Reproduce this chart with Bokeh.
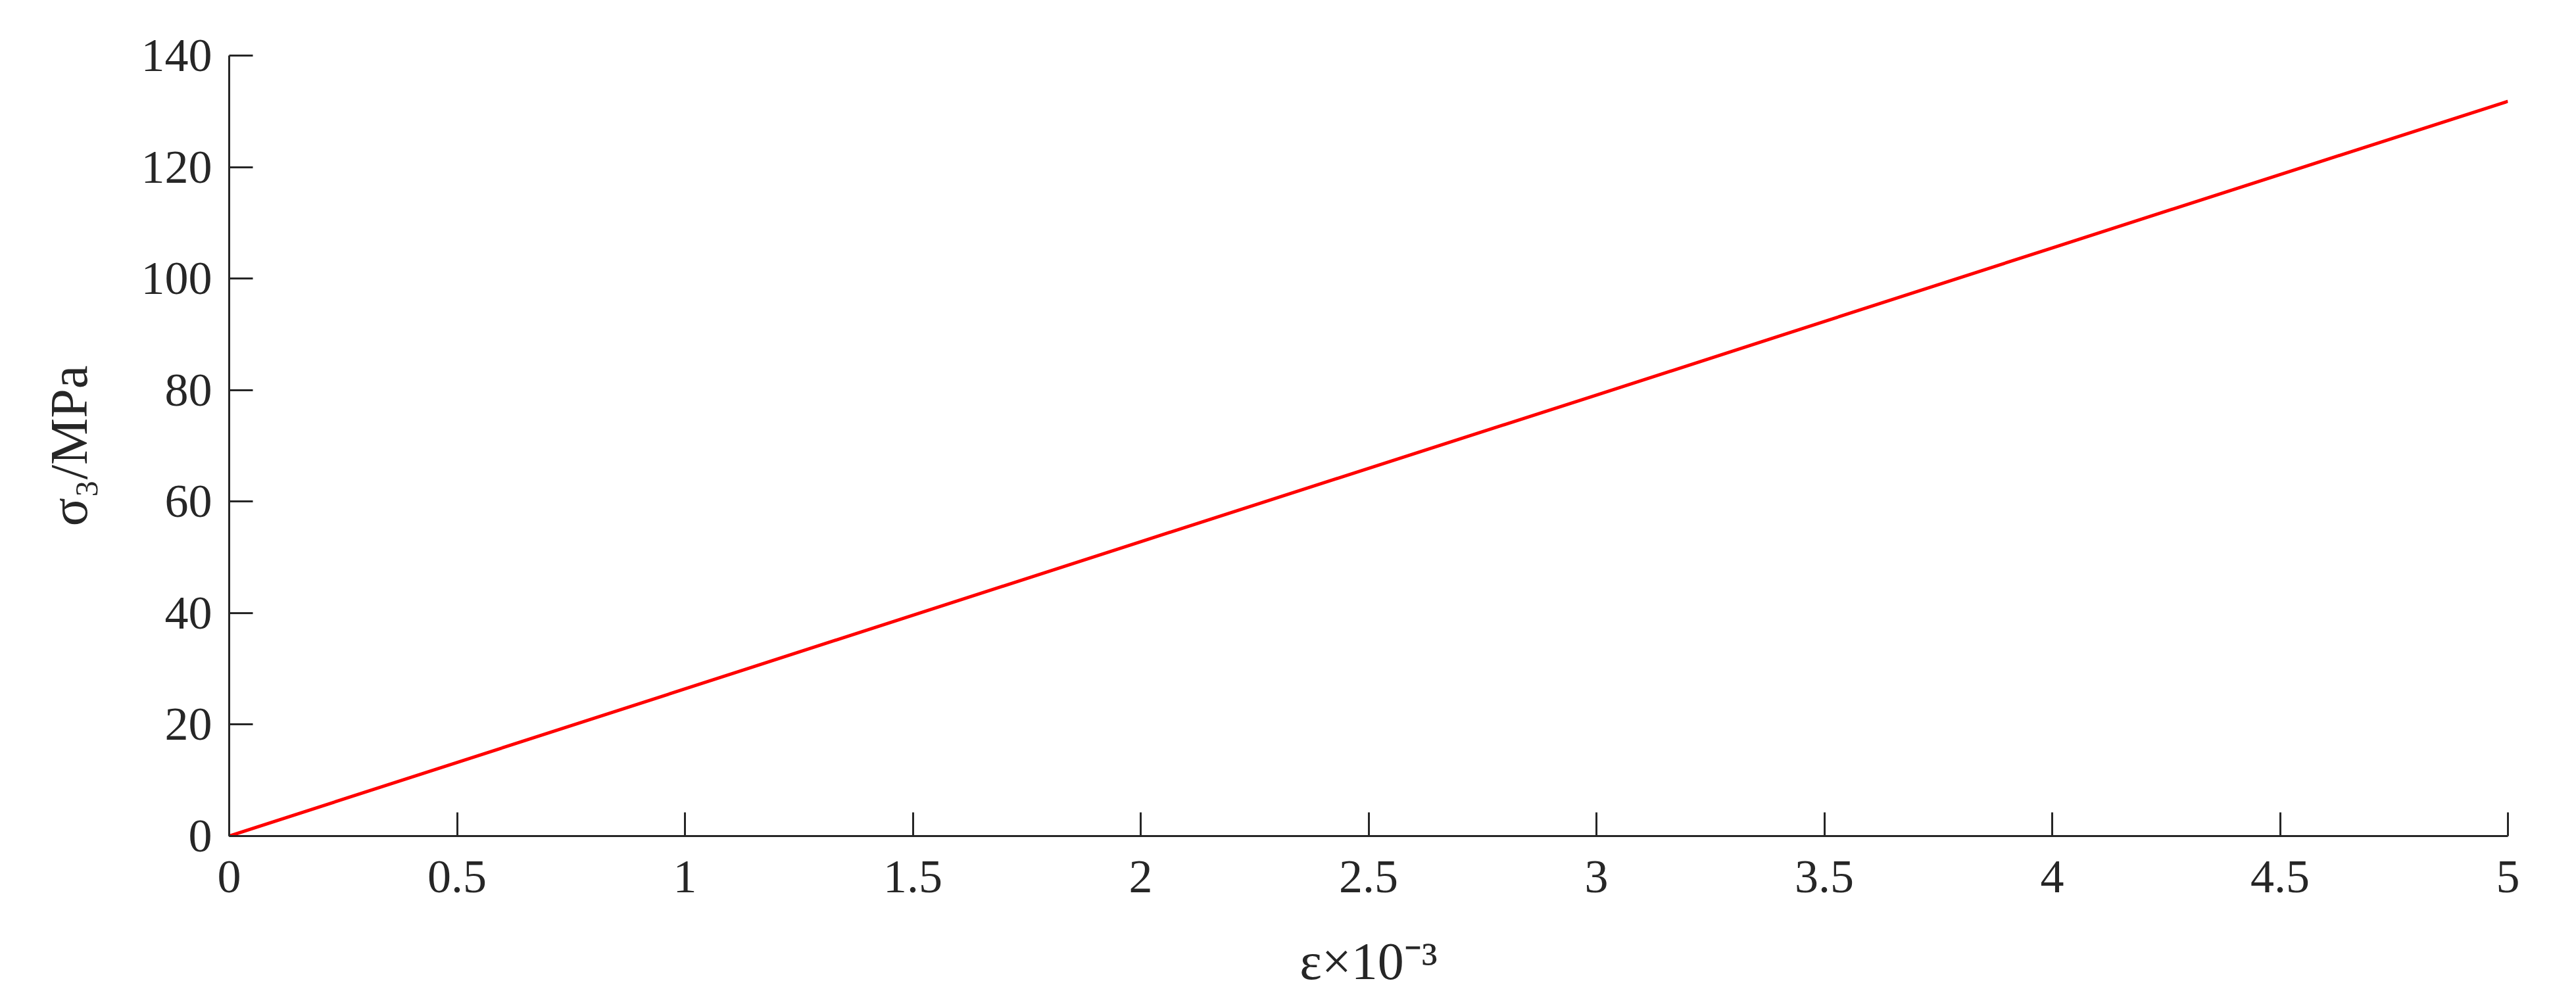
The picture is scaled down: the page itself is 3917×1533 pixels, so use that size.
from bokeh.plotting import figure
from bokeh.models import FixedTicker, Range1d
from bokeh.embed import file_html
from bokeh.resources import INLINE

# data
strain = [0, 1, 2, 3, 4, 5]
stress = [0, 26.4, 52.8, 79.1, 105.5, 131.8]

x_ticks = [0, 0.5, 1, 1.5, 2, 2.5, 3, 3.5, 4, 4.5, 5]
x_tick_labels = ["0", "0.5", "1", "1.5", "2", "2.5", "3", "3.5", "4", "4.5", "5"]
y_ticks = [0, 20, 40, 60, 80, 100, 120, 140]
y_tick_labels = ["0", "20", "40", "60", "80", "100", "120", "140"]

x_label = "ε×10⁻³"
y_label = "σ₃/MPa"

AX = "#262626"
FONT = "Liberation Serif"

p = figure(width=3917, height=1533, output_backend="svg", toolbar_location=None,
           x_range=Range1d(0, 5), y_range=Range1d(0, 140),
           min_border_left=348, min_border_right=104, min_border_top=84,
           min_border_bottom=262)
p.outline_line_color = None
p.xgrid.visible = False
p.ygrid.visible = False
p.background_fill_color = "white"
p.border_fill_color = "white"

p.line(strain, stress, line_color="#ff0000", line_width=5)

p.xaxis.ticker = FixedTicker(ticks=x_ticks)
p.yaxis.ticker = FixedTicker(ticks=y_ticks)
p.xaxis.major_label_overrides = {t: l for t, l in zip(x_ticks, x_tick_labels)}
p.yaxis.major_label_overrides = {t: l for t, l in zip(y_ticks, y_tick_labels)}
p.xaxis.axis_label = x_label
p.yaxis.axis_label = y_label

for ax in (p.xaxis, p.yaxis):
    ax.axis_line_color = AX
    ax.axis_line_width = 3
    ax.major_tick_line_color = AX
    ax.major_tick_line_width = 3
    ax.major_tick_in = 36
    ax.major_tick_out = 0
    ax.minor_tick_line_color = None
    ax.major_label_text_font = FONT
    ax.major_label_text_font_size = "72px"
    ax.major_label_text_color = AX
    ax.axis_label_text_font = FONT
    ax.axis_label_text_font_size = "80px"
    ax.axis_label_text_font_style = "normal"
    ax.axis_label_text_color = AX

p.xaxis.major_label_standoff = 38
p.yaxis.major_label_standoff = 26
p.xaxis.axis_label_standoff = 58
p.yaxis.axis_label_standoff = 63

open("out.html", "w").write(file_html(p, INLINE))
